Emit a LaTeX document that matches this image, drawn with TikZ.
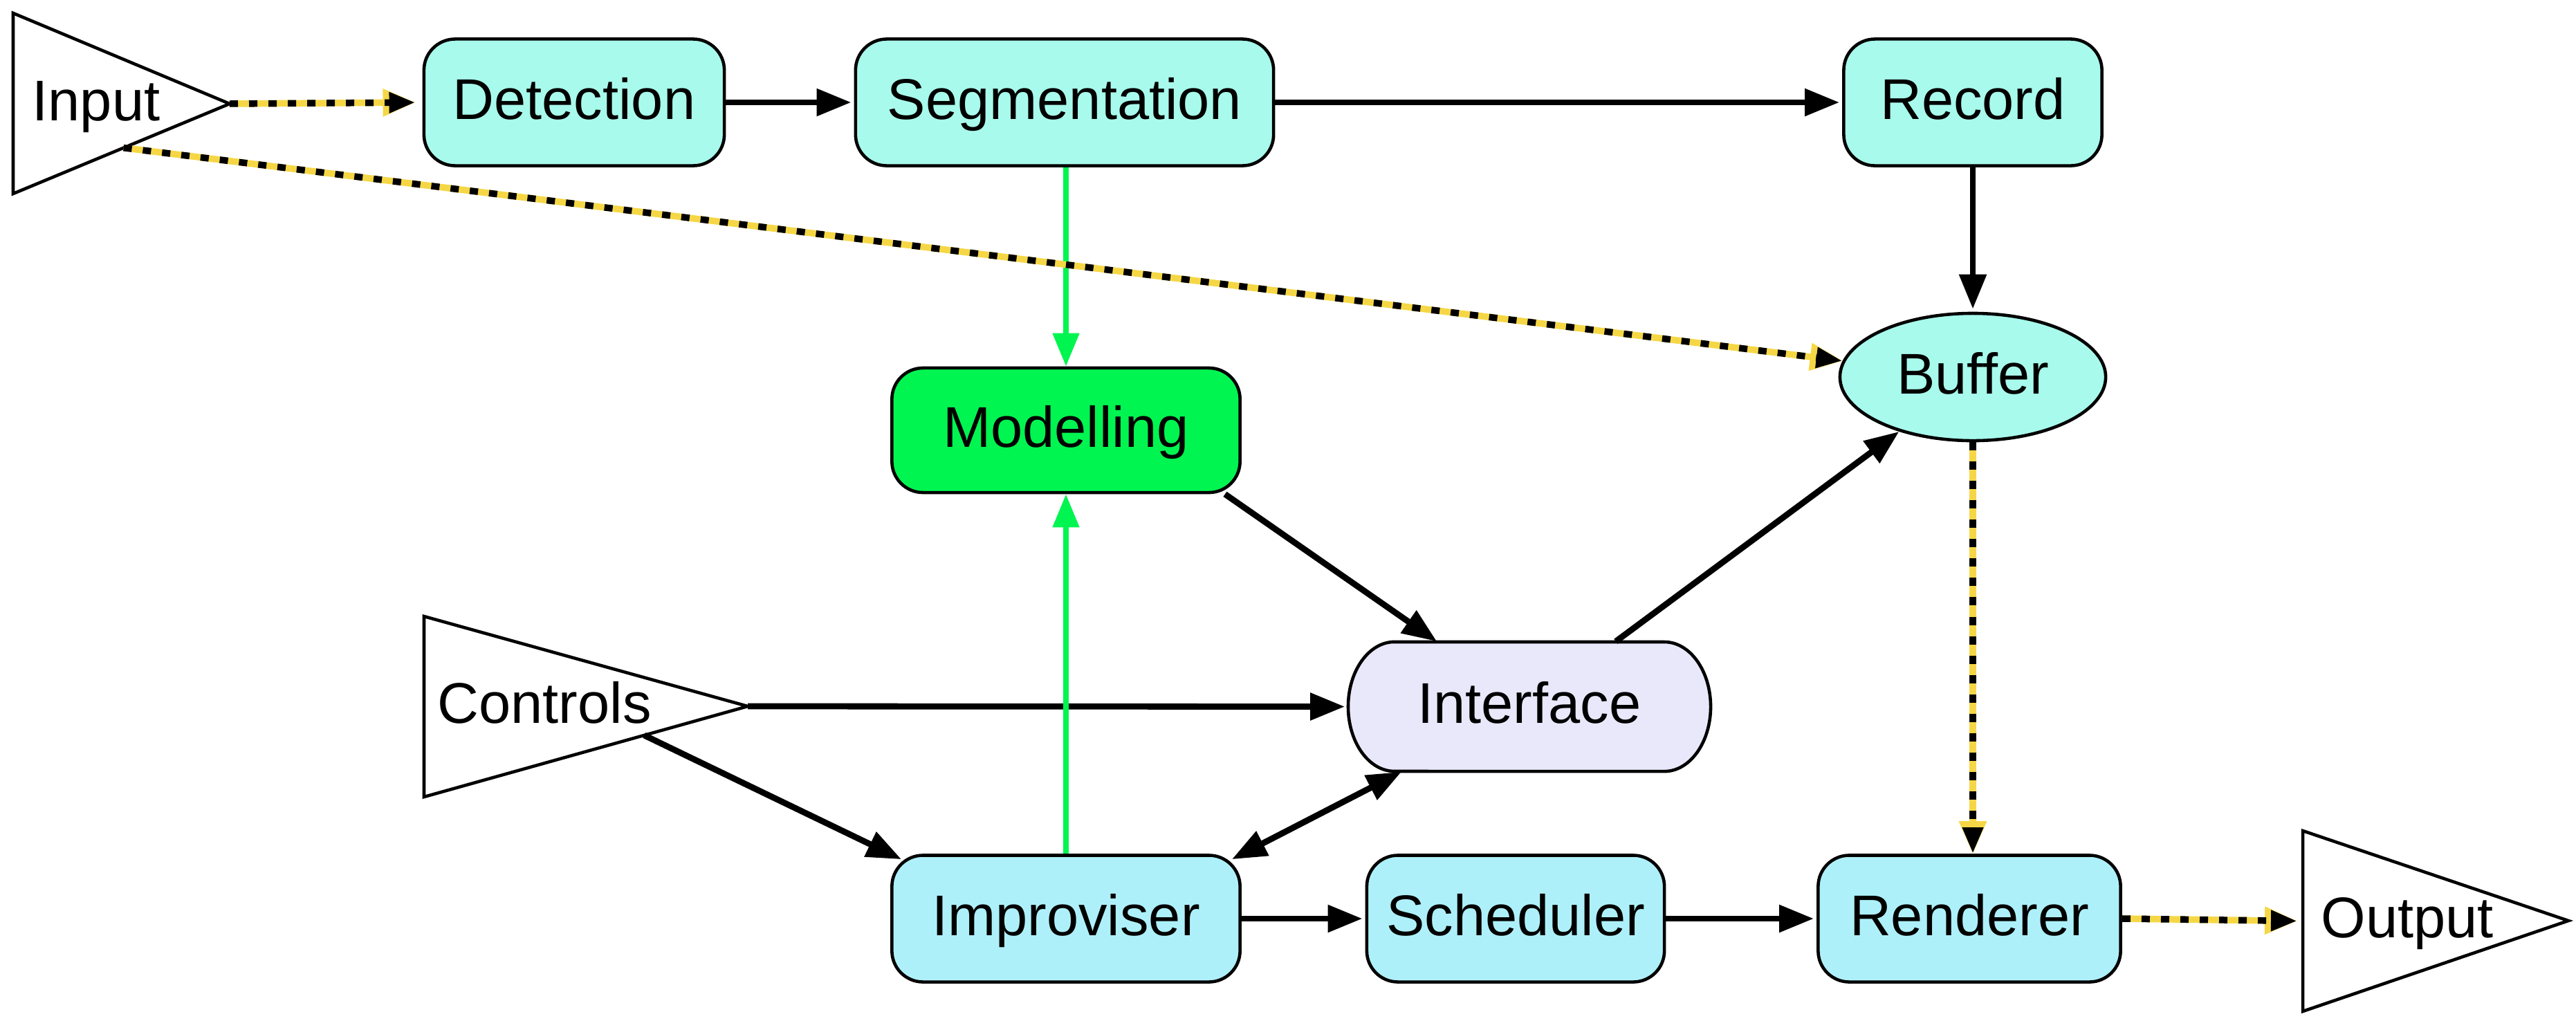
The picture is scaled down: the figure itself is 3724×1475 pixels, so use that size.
\documentclass[tikz,border=0pt]{standalone}
\usepackage{fontspec}
\setmainfont{Liberation Sans}
\usetikzlibrary{arrows.meta,calc,shapes.geometric}
\definecolor{cyanA}{RGB}{168,250,236}
\definecolor{cyanB}{RGB}{174,240,250}
\definecolor{greenM}{RGB}{0,245,80}
\definecolor{lav}{RGB}{232,232,250}
\definecolor{yel}{RGB}{245,215,70}
\tikzset{
  txt/.style={font=\fontsize{23.6pt}{28pt}\selectfont, text height=0.6cm, text depth=0.12cm},
  box/.style={txt, draw=black, line width=1.3pt, rounded corners=0.45cm, minimum height=1.83cm, inner sep=0pt},
  ellbox/.style={txt, draw=black, line width=1.3pt, ellipse, inner sep=0pt},
  tri/.style={draw=black, line width=1.3pt, line join=miter},
  lbl/.style={txt, inner sep=0pt, anchor=west},
  arr/.style={line width=2.5pt, -{Triangle[length=0.5cm,width=0.38cm]}},
  dblarr/.style={line width=2.5pt, {Triangle[length=0.5cm,width=0.38cm]}-{Triangle[length=0.5cm,width=0.38cm]}},
  garr/.style={draw=greenM, line width=2.3pt, -{Triangle[length=0.48cm,width=0.37cm,fill=greenM]}},
  yarr/.style={draw=yel, line width=2.7pt, -{Triangle[length=0.47cm,width=0.38cm,fill=yel]},
    postaction={draw=black, dash pattern=on 0.12cm off 0.16cm, -{Triangle[length=0.38cm,width=0.28cm,fill=black]}}}
}
\begin{document}
\begin{tikzpicture}[x=0.01cm,y=-0.01cm]
\useasboundingbox (0,0) rectangle (3724,1475);
% Input triangle
\coordinate (iA) at (19,19);
\coordinate (iB) at (19,280);
\coordinate (iC) at (332,150);
\draw[tri] (iA) -- (iB) -- (iC) -- cycle;
\node[lbl] (input) at (46,150) {Input};
\coordinate (iLow) at ($(iB)!0.51!(iC)$);
% Controls triangle
\coordinate (cA) at (613,891);
\coordinate (cB) at (613,1152);
\coordinate (cC) at (1081,1021);
\draw[tri] (cA) -- (cB) -- (cC) -- cycle;
\node[lbl] (controls) at (632,1021) {Controls};
\coordinate (cLow) at ($(cB)!0.68!(cC)$);
% Output triangle
\coordinate (oA) at (3329,1201);
\coordinate (oB) at (3329,1462);
\coordinate (oC) at (3713,1331);
\draw[tri] (oA) -- (oB) -- (oC) -- cycle;
\node[lbl] (output) at (3355,1331) {Output};
\coordinate (oL) at ($(oA)!0.5!(oB)$);
% boxes
\node[box, fill=cyanA, minimum width=4.34cm] (det) at (830,148) {Detection};
\node[box, fill=cyanA, minimum width=6.04cm] (seg) at (1539,148) {Segmentation};
\node[box, fill=cyanA, minimum width=3.73cm] (rec) at (2852,148) {Record};
\node[ellbox, fill=cyanA, minimum width=3.84cm, minimum height=1.84cm] (buf) at (2852,545) {Buffer};
\node[box, fill=greenM, minimum width=5.03cm, minimum height=1.80cm] (mod) at (1541,622) {Modelling};
% Interface
\filldraw[fill=lav, draw=black, line width=1.3pt] (2016,928) -- (2406,928)
  arc[start angle=90, end angle=-90, x radius=0.67cm, y radius=0.935cm] -- (2016,1115)
  arc[start angle=270, end angle=90, x radius=0.67cm, y radius=0.935cm] -- cycle;
\node[txt, inner sep=0pt, minimum width=5.24cm, minimum height=1.87cm] (iface) at (2211,1021.5) {Interface};
\node[box, fill=cyanB, minimum width=5.03cm] (imp) at (1541,1328) {Improviser};
\node[box, fill=cyanB, minimum width=4.30cm] (sch) at (2191,1328) {Scheduler};
\node[box, fill=cyanB, minimum width=4.37cm] (ren) at (2847,1328) {Renderer};
% connectors
\draw[arr, shorten >=0.04cm] (det) -- (seg);
\draw[arr, shorten >=0.04cm] (seg) -- (rec);
\draw[arr, shorten >=0.04cm] (rec) -- (buf);
\draw[arr] ($(mod.south east)+(-24,0)$) -- ($(iface.north west)+(129,0)$);
\draw[arr] ($(iface.north east)+(-138,0)$) -- (buf);
\draw[arr, shorten >=0.04cm] (cC) -- (iface.west);
\draw[arr] (cLow) -- ($(imp.north west)+(16,8)$);
\draw[dblarr] ($(imp.north east)+(-14,8)$) -- (iface.207);
\draw[arr, shorten >=0.04cm] (imp) -- (sch);
\draw[arr, shorten >=0.04cm] (sch) -- (ren);
\draw[garr] (mod.north |- seg.south) -- (mod.north);
\draw[garr] (imp.north) -- (mod.south);
\draw[yarr, shorten >=0.1cm] (iC) -- (det.west);
\draw[yarr] (iLow) -- (buf);
\draw[yarr] (buf.south) -- (buf.south |- ren.north);
\draw[yarr, shorten >=0.08cm] (ren.east) -- (oL);
\end{tikzpicture}
\end{document}
